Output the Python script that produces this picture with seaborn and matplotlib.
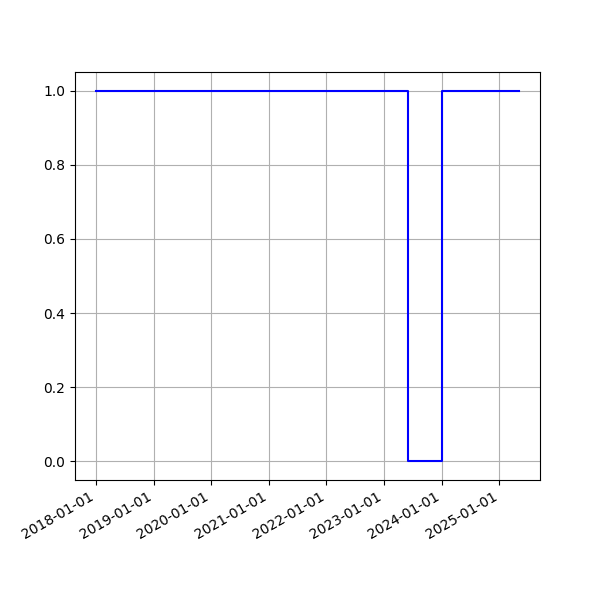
import pandas as pd
import numpy as np
import matplotlib
matplotlib.use("Agg")
import matplotlib.pyplot as plt
import matplotlib.dates as mdates
import seaborn as sns

# step series: 1 = on, 0 = off
dates = ["2018-01-01", "2023-06-05", "2024-01-01", "2025-05-05"]
values = [1, 0, 1, 1]

df = pd.DataFrame({"date": pd.to_datetime(dates), "value": values})

fig, ax = plt.subplots(figsize=(6, 6), dpi=100)
sns.lineplot(data=df, x="date", y="value", ax=ax, color="blue",
             drawstyle="steps-post", linewidth=1.5)

ax.xaxis.set_major_locator(mdates.YearLocator())
ax.xaxis.set_major_formatter(mdates.DateFormatter("%Y-%m-%d"))
ax.set_xlabel("")
ax.set_ylabel("")
ax.grid(True)
fig.autofmt_xdate()

plt.savefig("out.png")
plt.close()
